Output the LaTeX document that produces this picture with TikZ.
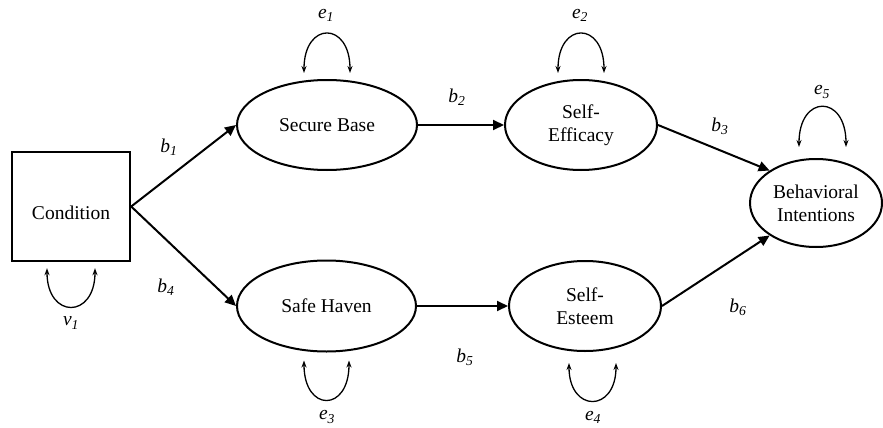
\documentclass[tikz,border=0pt]{standalone}
\usepackage{fontspec}
\setmainfont{Liberation Serif}
\usetikzlibrary{shapes.geometric,arrows.meta}

\tikzset{
  latent/.style={ellipse, draw, line width=2pt, inner sep=0pt, align=center,
    font=\fontsize{19.5}{23}\selectfont},
  observed/.style={rectangle, draw, line width=2.4pt, inner sep=0pt},
  nodetext/.style={font=\fontsize{19.5}{23}\selectfont},
  path/.style={line width=2pt, -{Triangle[length=11pt,width=10pt]}},
  resid/.style={line width=1.3pt, {Stealth[length=7pt,width=5pt]}-{Stealth[length=7pt,width=5pt]}},
  coef/.style={font=\fontsize{19.5}{22}\selectfont\itshape, inner sep=0pt},
}
\newcommand{\coeflabel}[2]{#1\textsubscript{#2}}

\begin{document}
\begin{tikzpicture}[x=1pt,y=-1pt]
  \useasboundingbox (0,0) rectangle (883,428);

  % observed variable
  \node[observed, minimum width=118pt, minimum height=109pt] (cond) at (71,206.5) {};
  \node[nodetext] (condtext) at (71,213) {Condition};

  % latent variables
  \node[latent, minimum width=180pt, minimum height=90pt] (sb)  at (327,125) {Secure Base};
  \node[latent, minimum width=152pt, minimum height=90pt] (sef) at (581,125) {Self-\\Efficacy};
  \node[latent, minimum width=179pt, minimum height=91pt] (sh)  at (326.5,306) {Safe Haven};
  \node[latent, minimum width=152pt, minimum height=90pt] (ses) at (585,306) {Self-\\Esteem};
  \node[latent, minimum width=132pt, minimum height=88pt] (bi)  at (816,203) {Behavioral\\Intentions};

  % structural paths
  \draw[path] (cond.east) -- (sb.west);
  \draw[path] (cond.east) -- (sh.west);
  \draw[path] (sb.east) -- (sef.west);
  \draw[path] (sh.east) -- (ses.west);
  \draw[path] (sef.east) -- (bi.145);
  \draw[path] (ses.east) -- (bi.215);

  % variances / residuals
  \draw[resid] ([shift={(-24,6)}]cond.south) .. controls +(0,51) and +(0,51) .. ([shift={(24,6)}]cond.south);
  \draw[resid] ([shift={(-23,-6)}]sb.north) .. controls +(0,-52) and +(0,-52) .. ([shift={(23,-6)}]sb.north);
  \draw[resid] ([shift={(-23,-6)}]sef.north) .. controls +(0,-52) and +(0,-52) .. ([shift={(23,-6)}]sef.north);
  \draw[resid] ([shift={(-17,-11)}]bi.north) .. controls +(0,-53) and +(0,-53) .. ([shift={(30,-11)}]bi.north);
  \draw[resid] ([shift={(-22.5,8)}]sh.south) .. controls +(0,52) and +(0,52) .. ([shift={(22.5,8)}]sh.south);
  \draw[resid] ([shift={(-16,11)}]ses.south) .. controls +(0,50) and +(0,50) .. ([shift={(31,11)}]ses.south);

  % coefficient labels
  \node[coef] (lb1) at (169,147) {\coeflabel{b}{1}};
  \node[coef] (lb4) at (166,287) {\coeflabel{b}{4}};
  \node[coef] (lb2) at (457,97)  {\coeflabel{b}{2}};
  \node[coef] (lb3) at (720,126) {\coeflabel{b}{3}};
  \node[coef] (lb5) at (465,357) {\coeflabel{b}{5}};
  \node[coef] (lb6) at (738,307) {\coeflabel{b}{6}};

  % residual labels
  \node[coef] (le1) at (326,15)  {\coeflabel{e}{1}};
  \node[coef] (le2) at (580,15)  {\coeflabel{e}{2}};
  \node[coef] (le5) at (822,92)  {\coeflabel{e}{5}};
  \node[coef] (le3) at (327,417) {\coeflabel{e}{3}};
  \node[coef] (le4) at (593,417) {\coeflabel{e}{4}};
  \node[coef] (lv1) at (71,323)  {\coeflabel{v}{1}};
\end{tikzpicture}
\end{document}
